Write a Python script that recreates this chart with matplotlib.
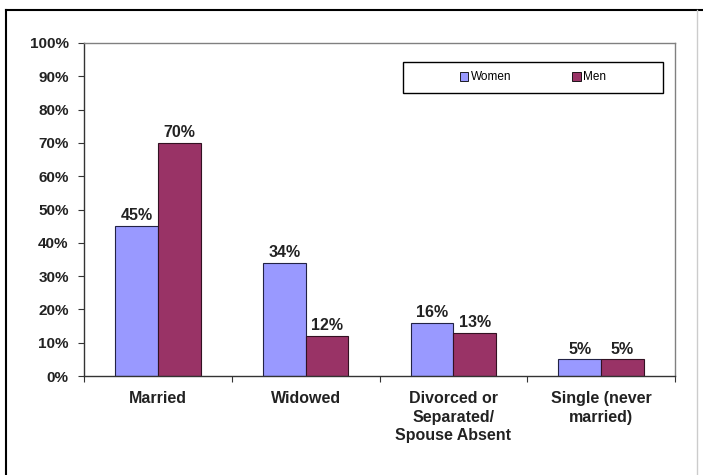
import numpy as np
from matplotlib import pyplot as plt
from matplotlib.lines import Line2D
from matplotlib.patches import Patch, Rectangle

plt.rcParams['font.family'] = ['Liberation Sans', 'DejaVu Sans']

categories = ['Married', 'Widowed', 'Divorced or\nSeparated/\nSpouse Absent', 'Single (never\nmarried)']
women = [45, 34, 16, 5]
men = [70, 12, 13, 5]

women_color = '#9999FF'
men_color = '#993366'

fig = plt.figure(figsize=(7.03, 4.75), dpi=100)

# outer chart border (left/top black, right faint)
fig.add_artist(Line2D([6/703, 6/703], [0, 1 - 10/475], color='black', lw=1.5))
fig.add_artist(Line2D([6/703, 1], [1 - 10/475, 1 - 10/475], color='black', lw=1.5))
fig.add_artist(Line2D([697/703, 697/703], [0, 1 - 10/475], color='#cccccc', lw=1))

ax = fig.add_axes([84/703, 1 - 376/475, 591/703, 333/475])

x = np.arange(len(categories))
w = 0.29
b1 = ax.bar(x - w/2, women, w, color=women_color, edgecolor='#222244', linewidth=0.8, label='Women')
b2 = ax.bar(x + w/2, men, w, color=men_color, edgecolor='#331122', linewidth=0.8, label='Men')

for bars, vals in [(b1, women), (b2, men)]:
    for r, v in zip(bars, vals):
        ax.text(r.get_x() + r.get_width()/2, v + 0.8, f'{v}%', ha='center', va='bottom',
                fontsize=11.5, fontweight='bold', color='#222222')

ax.set_xlim(-0.5, len(categories) - 0.5)
ax.set_ylim(0, 100)
ax.set_yticks(range(0, 101, 10))
ax.set_yticklabels([f'{v}%' for v in range(0, 101, 10)], fontsize=11, fontweight='bold', color='#222222')

# category labels between boundary ticks
ax.set_xticks(np.arange(-0.5, len(categories), 1.0))
ax.set_xticklabels([])
ax.set_xticks(x, minor=True)
ax.set_xticklabels(categories, minor=True, fontsize=11.5, fontweight='bold', color='#222222', linespacing=1.3)
ax.tick_params(axis='x', which='minor', length=0, pad=11)
ax.tick_params(axis='x', which='major', direction='out', length=4, color='#333333')
ax.tick_params(axis='y', direction='out', length=4, color='#333333', pad=7)

for s in ['top', 'right']:
    ax.spines[s].set_color('#808080')
    ax.spines[s].set_linewidth(1)
for s in ['left', 'bottom']:
    ax.spines[s].set_color('#333333')
    ax.spines[s].set_linewidth(1)

handles = [Patch(facecolor=women_color, edgecolor='black', linewidth=0.6),
           Patch(facecolor=men_color, edgecolor='black', linewidth=0.6)]
leg = fig.legend(handles, ['Women', 'Men'], ncol=2,
                 bbox_to_anchor=(403/703, 1 - 93/475, 260/703, 31/475), loc='center',
                 fontsize=8.5, frameon=False,
                 handlelength=0.7, handleheight=0.7, handletextpad=0.2,
                 columnspacing=5.2, borderpad=0.6)
fig.add_artist(Rectangle((403/703, 1 - 93/475), 260/703, 31/475, transform=fig.transFigure,
                         fill=False, edgecolor='black', linewidth=1))

fig.savefig('out.png', dpi=100)
